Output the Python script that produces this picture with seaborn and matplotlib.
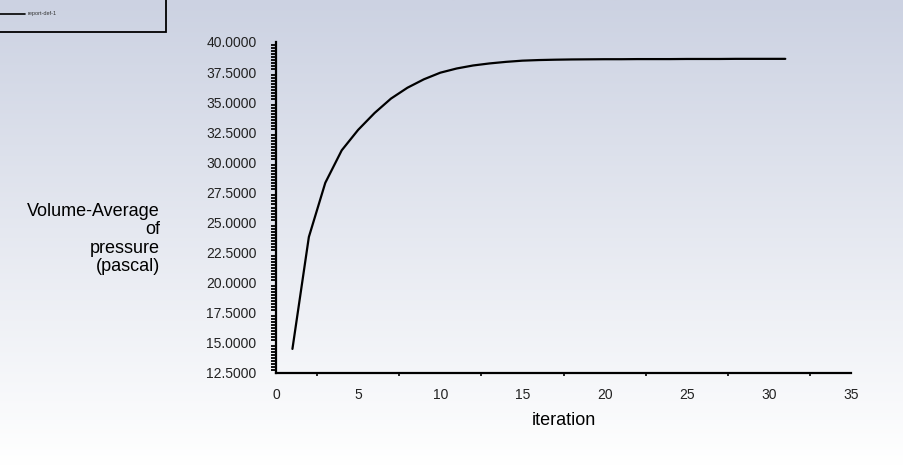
import numpy as np
import pandas as pd
import matplotlib
matplotlib.use("Agg")
import matplotlib.pyplot as plt
from matplotlib.ticker import MultipleLocator, FormatStrFormatter
from matplotlib.patches import Rectangle
from matplotlib.lines import Line2D
from matplotlib.colors import LinearSegmentedColormap
import seaborn as sns

iterations = list(range(1, 32))
pressure = [14.5, 23.8, 28.3, 31.0, 32.7, 34.1, 35.3, 36.2, 36.9, 37.45,
            37.8, 38.05, 38.22, 38.35, 38.45, 38.5, 38.53, 38.55, 38.56, 38.57,
            38.57, 38.58, 38.58, 38.58, 38.59, 38.59, 38.59, 38.6, 38.6, 38.6, 38.6]
series_name = "report-def-1"
x_label = "iteration"
y_label = "Volume-Average\nof\npressure\n(pascal)"

df = pd.DataFrame({"iteration": iterations, "pressure": pressure})

sns.set_theme(style="white")
plt.rcParams['font.family'] = ['Liberation Sans', 'DejaVu Sans']

fig = plt.figure(figsize=(9.04, 4.66), dpi=100)

# gradient background
bg = fig.add_axes([0, 0, 1, 1], zorder=-10)
grad = np.linspace(0, 1, 256).reshape(-1, 1)
cmap = LinearSegmentedColormap.from_list("bg", ["#ccd2e2", "#ffffff"])
bg.imshow(grad, aspect="auto", cmap=cmap, extent=[0, 1, 0, 1])
bg.axis("off")

ax = fig.add_axes([276/904, 1-373/466, (851-276)/904, (373-42)/466])
ax.patch.set_alpha(0)
sns.lineplot(data=df, x="iteration", y="pressure", ax=ax, color="black", linewidth=1.6)

ax.set_xlim(0, 35)
ax.set_ylim(12.5, 40)
ax.xaxis.set_major_locator(MultipleLocator(5))
ax.xaxis.set_minor_locator(MultipleLocator(2.5))
ax.yaxis.set_major_locator(MultipleLocator(2.5))
ax.yaxis.set_minor_locator(MultipleLocator(0.25))
ax.yaxis.set_major_formatter(FormatStrFormatter("%.4f"))
for s in ["top", "right"]:
    ax.spines[s].set_visible(False)
for s in ["left", "bottom"]:
    ax.spines[s].set_color("black")
    ax.spines[s].set_linewidth(1.6)
ax.tick_params(axis="y", which="major", direction="out", length=7, width=1.5, labelsize=10, pad=7, colors="black")
ax.tick_params(axis="y", which="minor", direction="out", length=3.5, width=1.3, left=True, colors="black")
ax.tick_params(axis="x", which="major", direction="out", length=4, width=1.5, labelsize=10, pad=7, colors="black")
ax.tick_params(axis="x", which="minor", direction="out", length=2, width=1.2, bottom=True, colors="black")
for lab in ax.get_xticklabels() + ax.get_yticklabels():
    lab.set_color("#222222")

ax.set_xlabel(x_label, fontsize=13, color="black", labelpad=7)
ax.set_ylabel("")
fig.text(160/904, 1-239/466, y_label, ha="right", va="center", fontsize=13,
         color="black", linespacing=1.12, multialignment="right")

# legend box in top-left
fig.patches.append(Rectangle((-0.01, 1-32/466), 166/904 + 0.01, 32/466 + 0.01,
                             transform=fig.transFigure, facecolor="none",
                             edgecolor="black", linewidth=1.3))
fig.lines.append(Line2D([0, 25/904], [1-14/466, 1-14/466], transform=fig.transFigure,
                        color="black", linewidth=1.2))
fig.text(28/904, 1-14/466, series_name, fontsize=4, va="center", ha="left", color="#333333")

fig.savefig("out.png", dpi=100)
